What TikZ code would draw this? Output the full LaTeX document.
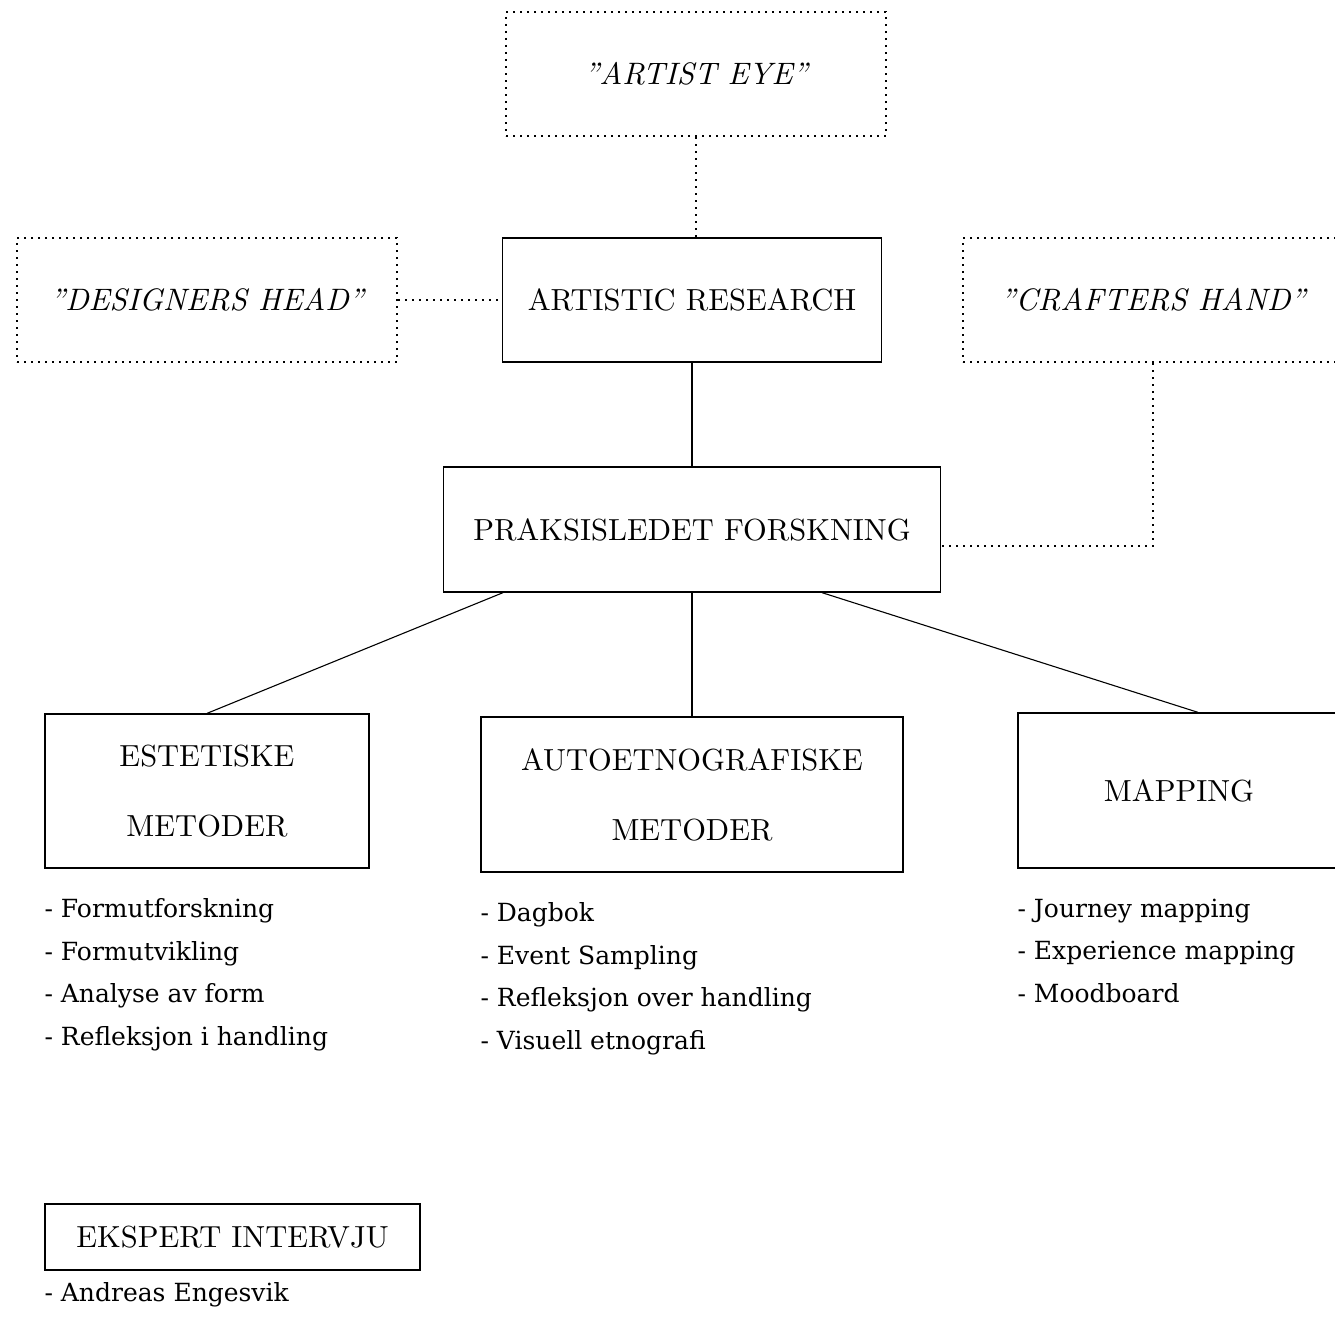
\documentclass[tikz,border=0pt]{standalone}
\usepackage{fontspec}
\setmainfont{lmroman10-regular.otf}[ItalicFont=lmroman10-italic.otf]
\newfontfamily\listfont{DejaVu Serif}
\usetikzlibrary{positioning,calc}

\begin{document}
\begin{tikzpicture}[
    x=1pt,y=-1pt,
    box/.style={draw,line width=1.3pt,inner sep=0pt,align=center,font=\fontsize{30.5}{70}\selectfont},
    idea/.style={box,line width=2pt,dash pattern=on 2pt off 5pt,font=\fontsize{31}{36}\selectfont\itshape},
    lst/.style={inner sep=0pt,align=left,font=\listfont\fontsize{25}{42.5}\selectfont},
    link/.style={line width=1.1pt},
    dots/.style={line width=2pt,dash pattern=on 2pt off 5pt}
]
\useasboundingbox (0,0) rectangle (1335,1317);

% upper level
\node[idea,minimum width=380pt,minimum height=124pt] (AE) at (696,74) {”ARTIST EYE”};
\node[box,minimum width=379pt,minimum height=124pt] (AR) at (692,300) {ARTISTIC RESEARCH};
\node[idea,minimum width=380pt,minimum height=124pt] (DH) at (207,300) {”DESIGNERS HEAD”};
\node[idea,minimum width=380pt,minimum height=124pt] (CH) at (1153,300) {”CRAFTERS HAND”};

\draw[dots] (AE.south) -- (AE.south |- AR.north);
\draw[dots] (DH) -- (AR);

\node[box,minimum width=497pt,minimum height=125pt] (PF) at (692,529.5) {PRAKSISLEDET FORSKNING};
\draw[link] (AR) -- (PF);
\draw[dots] (CH.south) |- ([yshift=-16pt]PF.east);

% methods
\node[box,minimum width=324pt,minimum height=154pt] (EM) at (207,791) {ESTETISKE\\METODER};
\node[box,minimum width=422pt,minimum height=155pt] (AM) at (692,794.5) {AUTOETNOGRAFISKE\\METODER};
\node[box,minimum width=322pt,minimum height=155pt] (MP) at (1179,790.5) {MAPPING};

\draw[link] ([xshift=-189pt]PF.south) -- (EM.north);
\draw[link] (PF.south) -- (AM.north);
\draw[link] ([xshift=130pt]PF.south) -- ([xshift=19pt]MP.north);

\node[lst,below=30pt of EM.south west,anchor=north west] (EMlist)
    {- Formutforskning\\- Formutvikling\\- Analyse av form\\- Refleksjon i handling};
\node[lst,below=30pt of AM.south west,anchor=north west] (AMlist)
    {- Dagbok\\- Event Sampling\\- Refleksjon over handling\\- Visuell etnografi};
\node[lst,below=30pt of MP.south west,anchor=north west] (MPlist)
    {- Journey mapping\\- Experience mapping\\- Moodboard};

% interview
\node[box,minimum width=375pt,minimum height=66pt] (EI) at (232.5,1237) {EKSPERT INTERVJU};
\node[lst,below=12pt of EI.south west,anchor=north west] (EIlist) {- Andreas Engesvik};
\end{tikzpicture}
\end{document}
